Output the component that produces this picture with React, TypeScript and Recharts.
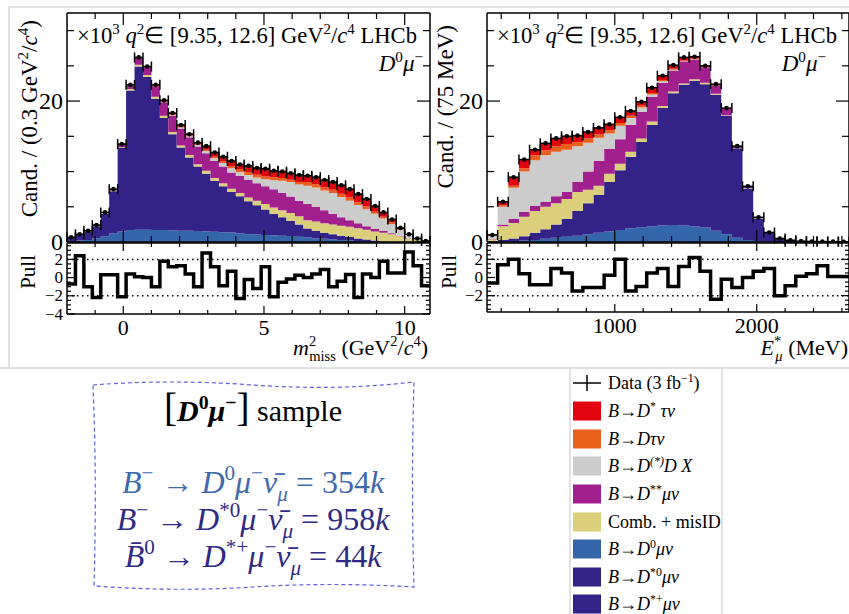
import React from "react";
import { ComposedChart, Area, Scatter, ErrorBar, Line, XAxis, YAxis, ReferenceLine } from "recharts";

const FONT = "'Liberation Serif', 'Times New Roman', serif";

// m²miss histogram: 43 bins of 0.3 GeV²/c⁴ starting at -2 (values ×10³)
const MM_LO = -2;
const MM_W = 0.3;
const MM_DATA = [0.66, 1.1, 1.6, 2.4, 4.2, 7.5, 13.9, 22.3, 26.2, 24.9, 22.3, 20.1, 18.3, 16.6, 15.3, 14.1, 13.6, 12.7, 12.1, 11.5, 11.0, 10.8, 10.5, 10.4, 10.1, 10.0, 9.75, 9.5, 9.4, 9.2, 8.8, 8.5, 8.05, 7.5, 6.8, 6.1, 5.1, 4.2, 3.2, 2.0, 1.1, 0.5, 0.15];
const MM_DMU = [0.1, 0.2, 0.3, 0.5, 0.8, 1.2, 1.5, 1.7, 1.75, 1.75, 1.7, 1.7, 1.65, 1.6, 1.6, 1.55, 1.5, 1.45, 1.4, 1.35, 1.25, 1.1, 1.05, 1.0, 0.95, 0.9, 0.85, 0.75, 0.65, 0.55, 0.45, 0.4, 0.3, 0.25, 0.15, 0.1, 0.05, 0.02, 0, 0, 0, 0, 0];
const MM_DSTMU = [0.5, 0.8, 1.15, 1.75, 3.2, 6.0, 11.9, 19.8, 23.15, 21.65, 18.6, 15.9, 13.65, 11.8, 10.4, 9.15, 8.2, 7.25, 6.5, 5.75, 5.25, 4.7, 4.15, 3.6, 3.05, 2.6, 2.15, 1.75, 1.25, 1.05, 0.85, 0.7, 0.6, 0.45, 0.35, 0.25, 0.15, 0.08, 0.05, 0, 0, 0, 0];
const MM_COMB = [0.05, 0.05, 0.05, 0.05, 0.1, 0.1, 0.1, 0.2, 0.25, 0.3, 0.3, 0.3, 0.3, 0.3, 0.35, 0.35, 0.4, 0.4, 0.45, 0.45, 0.45, 0.5, 0.65, 0.8, 0.9, 1.0, 1.1, 1.15, 1.2, 1.3, 1.35, 1.4, 1.4, 1.45, 1.45, 1.4, 1.3, 1.2, 1.05, 0.8, 0.5, 0.3, 0.1];
const MM_DSS = [0, 0.05, 0.05, 0.05, 0.1, 0.15, 0.3, 0.5, 0.95, 1.1, 1.5, 1.95, 2.3, 2.4, 2.5, 2.5, 2.5, 2.4, 2.35, 2.3, 2.4, 2.5, 2.5, 2.5, 2.6, 2.5, 2.35, 2.2, 2.3, 2.1, 1.85, 1.5, 1.2, 0.95, 0.7, 0.5, 0.35, 0.25, 0.15, 0.1, 0.05, 0, 0];
const MM_DDX = [0, 0, 0, 0, 0, 0, 0, 0, 0, 0, 0, 0.05, 0.1, 0.15, 0.15, 0.2, 0.3, 0.4, 0.5, 0.6, 0.55, 0.7, 0.8, 1.0, 1.3, 1.7, 2.05, 2.3, 2.6, 2.75, 2.8, 2.95, 2.9, 2.75, 2.6, 2.4, 2.15, 1.8, 1.3, 0.8, 0.45, 0.2, 0.05];
const MM_DTAU = [0, 0, 0, 0, 0, 0, 0.05, 0, 0.05, 0, 0.05, 0.05, 0.1, 0.1, 0.1, 0.1, 0.2, 0.2, 0.25, 0.3, 0.4, 0.45, 0.4, 0.4, 0.4, 0.4, 0.35, 0.35, 0.5, 0.45, 0.45, 0.45, 0.45, 0.45, 0.4, 0.4, 0.3, 0.25, 0.2, 0.1, 0.05, 0, 0];
const MM_DSTAU = [0, 0, 0, 0, 0, 0, 0.05, 0.05, 0.1, 0.1, 0.15, 0.15, 0.2, 0.25, 0.25, 0.3, 0.5, 0.6, 0.65, 0.75, 0.75, 0.85, 0.95, 1.05, 0.95, 0.9, 0.9, 1.0, 0.9, 1.0, 1.05, 1.1, 1.2, 1.2, 1.15, 1.05, 0.8, 0.6, 0.45, 0.2, 0.05, 0, 0];
const MM_PULL = [-0.7, 2.4, -1.0, -2.2, 0.3, 0.3, -2.1, 0.4, 0.1, 0, -1.0, 1.8, 1.2, 1.3, 0.4, -1.0, 2.7, 1.2, -0.9, 0.7, -2.3, -0.2, -1.2, 1.2, -2.1, -0.5, -0.15, 0.25, 0, 0.4, 0.9, -1.0, -0.4, 0.35, -2.2, 0.4, 0, 1.8, 0.5, 0.5, 2.8, 1.3, -0.9];
const MM_TICKS = [-1, 0, 1, 2, 3, 4, 5, 6, 7, 8, 9, 10];
const MM_MAJOR = [0, 5, 10];

// E*μ histogram: 34 bins of 75 MeV starting at 100 MeV (values ×10³)
const EM_LO = 100;
const EM_W = 75;
const EM_DATA = [1.0, 5.7, 9.2, 11.7, 13.1, 14.0, 14.7, 15.0, 15.1, 15.6, 16.2, 16.7, 17.7, 18.6, 19.9, 21.9, 23.6, 25.1, 26.2, 26.3, 25.0, 22.4, 19.0, 13.6, 7.9, 3.5, 1.35, 0.5, 0.25, 0.12, 0.08, 0.06, 0.05, 0.04];
const EM_DMU = [0.05, 0.1, 0.15, 0.2, 0.3, 0.45, 0.6, 0.75, 0.9, 1.1, 1.3, 1.5, 1.7, 1.9, 2.1, 2.25, 2.35, 2.4, 2.35, 2.25, 2.05, 1.6, 1.1, 0.6, 0.3, 0.1, 0.05, 0, 0, 0, 0, 0, 0, 0];
const EM_DSTMU = [0.05, 0.2, 0.35, 0.6, 1.0, 1.35, 1.9, 2.55, 3.5, 4.4, 5.4, 7.0, 8.5, 10.2, 12.1, 14.35, 16.65, 18.7, 19.95, 20.65, 20.35, 19.3, 16.8, 12.7, 7.3, 3.25, 1.25, 0.45, 0.2, 0.08, 0.05, 0.03, 0.03, 0.02];
const EM_COMB = [0.3, 1.95, 2.2, 2.8, 3.1, 3.2, 3.0, 2.8, 2.7, 1.9, 1.3, 1.2, 0.9, 0.7, 0.5, 0.5, 0.3, 0.25, 0.2, 0.2, 0.2, 0.15, 0.1, 0.05, 0.05, 0.05, 0.03, 0.05, 0.05, 0.04, 0.03, 0.03, 0.02, 0.02];
const EM_DSS = [0.05, 0.25, 0.55, 0.7, 0.7, 0.7, 1.0, 1.0, 1.4, 2.6, 3.5, 3.5, 3.5, 3.8, 3.8, 3.5, 3.3, 3.0, 3.1, 2.8, 2.2, 1.2, 0.9, 0.25, 0.25, 0.1, 0.02, 0, 0, 0, 0, 0, 0, 0];
const EM_DDX = [0.45, 2.5, 4.45, 5.7, 6.5, 6.6, 6.3, 6.0, 5.1, 4.1, 3.3, 2.2, 1.9, 1.0, 0.6, 0.35, 0.2, 0.1, 0.05, 0.05, 0, 0, 0, 0, 0, 0, 0, 0, 0, 0, 0, 0, 0, 0];
const EM_DTAU = [0.05, 0.2, 0.3, 0.45, 0.7, 0.7, 0.8, 0.8, 0.6, 0.6, 0.5, 0.45, 0.4, 0.3, 0.25, 0.2, 0.2, 0.15, 0.1, 0.1, 0.05, 0.05, 0, 0, 0, 0, 0, 0, 0, 0, 0, 0, 0, 0];
const EM_DSTAU = [0.1, 0.5, 1.2, 1.25, 0.8, 1.0, 1.1, 1.1, 0.9, 0.9, 0.9, 0.85, 0.8, 0.7, 0.55, 0.75, 0.6, 0.5, 0.45, 0.25, 0.15, 0.1, 0.1, 0, 0, 0, 0, 0, 0, 0, 0, 0, 0, 0];
const EM_PULL = [-0.6, 1.4, 2.0, 0.4, -0.8, -0.8, 1.0, 0.5, -1.5, -1.1, -1.1, 0.25, 2.0, -1.5, -1.0, 0.5, 1.0, -1.0, 1.2, 2.2, 0.7, -2.4, -0.2, -1.1, 0, 0.7, 1.0, -2.0, -0.9, 0.15, 0.4, 1.3, 0.1, 0.1];
const EM_TICKS = [200, 400, 600, 800, 1000, 1200, 1400, 1600, 1800, 2000, 2200, 2400, 2600];
const EM_MAJOR = [1000, 2000];

const CAND_TICKS = [0, 5, 10, 15, 20, 25, 30];
const CAND_LABELS = [0, 20];
const PULL_TICKS_L = [-4, -3.5, -3, -2.5, -2, -1.5, -1, -0.5, 0, 0.5, 1, 1.5, 2, 2.5, 3, 3.5];
const PULL_TICKS_R = [-3.5, -3, -2.5, -2, -1.5, -1, -0.5, 0, 0.5, 1, 1.5, 2, 2.5, 3, 3.5];
const PULL_MAJOR = [-4, -2, 0, 2];

// bottom → top of the stack
const STACK = [
  { key: "dmu", color: "#3466ab" },
  { key: "dstmu", color: "#332288" },
  { key: "comb", color: "#dccf7b" },
  { key: "dss", color: "#a1208e" },
  { key: "ddx", color: "#cccccc" },
  { key: "dtau", color: "#e8601c" },
  { key: "dstau", color: "#e2040e" },
];

const MM_COMPS: Record<string, number[]> = { dmu: MM_DMU, dstmu: MM_DSTMU, comb: MM_COMB, dss: MM_DSS, ddx: MM_DDX, dtau: MM_DTAU, dstau: MM_DSTAU };
const EM_COMPS: Record<string, number[]> = { dmu: EM_DMU, dstmu: EM_DSTMU, comb: EM_COMB, dss: EM_DSS, ddx: EM_DDX, dtau: EM_DTAU, dstau: EM_DSTAU };

// step rows: one per bin low edge + closing edge
function histRows(lo: number, w: number, comps: Record<string, number[]>) {
  const keys = Object.keys(comps);
  const n = comps[keys[0]].length;
  const rows: any[] = [];
  for (let i = 0; i <= n; i++) {
    const row: any = { x: lo + i * w };
    keys.forEach((k) => (row[k] = comps[k][Math.min(i, n - 1)]));
    rows.push(row);
  }
  return rows;
}
const pointRows = (lo: number, w: number, vals: number[]) =>
  vals.map((v, i) => ({ x: lo + (i + 0.5) * w, y: v, xe: w / 2 }));

const AX = { stroke: "#000", strokeWidth: 1.5 };

type TickCfg = { ticks: number[]; majors: number[]; labels: number[]; fs: number; long: number; short: number };

function tickFn(side: string, c: TickCfg) {
  return (p: any) => {
    const v = p.payload.value;
    const x = p.x;
    const y = p.y;
    const len = c.majors.includes(v) ? c.long : c.short;
    const txt = c.labels.includes(v) ? (v < 0 ? "\u2212" + Math.abs(v) : String(v)) : null;
    let line;
    let label = null;
    if (side === "left") {
      line = <line x1={x} y1={y} x2={x + len} y2={y} />;
      if (txt) label = <text x={x - 4} y={y} textAnchor="end" dominantBaseline="central" fontSize={c.fs} fontFamily={FONT} fill="#000">{txt}</text>;
    } else if (side === "right") {
      line = <line x1={x} y1={y} x2={x - len} y2={y} />;
    } else if (side === "top") {
      line = <line x1={x} y1={y} x2={x} y2={y + len} />;
    } else {
      line = <line x1={x} y1={y} x2={x} y2={y - len} />;
      if (txt) label = <text x={x} y={y + 21} textAnchor="middle" fontSize={c.fs} fontFamily={FONT} fill="#000">{txt}</text>;
    }
    return (
      <g>
        <g stroke="#000" strokeWidth={1.2}>{line}</g>
        {label}
      </g>
    );
  };
}

function Panel(props: any) {
  const { left, top, width, height, margin, yW, bH, xDom, yDom, xT, yT, rows, children } = props;
  return (
    <div style={{ position: "absolute", left, top }}>
      <ComposedChart width={width} height={height} data={rows} margin={margin}>
        <XAxis xAxisId="b" dataKey="x" type="number" domain={xDom} allowDataOverflow ticks={xT.ticks} interval={0}
          orientation="bottom" height={bH} tickSize={0} tickMargin={0} tickLine={false} axisLine={AX} tick={tickFn("bottom", xT)} />
        <XAxis xAxisId="t" dataKey="x" type="number" domain={xDom} allowDataOverflow ticks={xT.ticks} interval={0}
          orientation="top" height={1} tickSize={0} tickMargin={0} tickLine={false} axisLine={AX} tick={tickFn("top", { ...xT, labels: [] })} />
        <YAxis yAxisId="l" type="number" domain={yDom} allowDataOverflow ticks={yT.ticks} interval={0}
          orientation="left" width={yW} tickSize={0} tickMargin={0} tickLine={false} axisLine={AX} tick={tickFn("left", yT)} />
        <YAxis yAxisId="r" type="number" domain={yDom} allowDataOverflow ticks={yT.ticks} interval={0}
          orientation="right" width={1} tickSize={0} tickMargin={0} tickLine={false} axisLine={AX} tick={tickFn("right", { ...yT, labels: [] })} />
        {children}
      </ComposedChart>
    </div>
  );
}

function stackSeries() {
  return STACK.map((s) => (
    <Area key={s.key} xAxisId="b" yAxisId="l" dataKey={s.key} stackId="s" type="stepAfter"
      fill={s.color} fillOpacity={1} stroke="none" dot={false} activeDot={false} isAnimationActive={false} />
  ));
}

function dataSeries(pts: any[]) {
  return (
    <Scatter xAxisId="b" yAxisId="l" data={pts} dataKey="y" isAnimationActive={false}
      shape={(p: any) => <circle cx={p.cx} cy={p.cy} r={2.3} fill="#000" />}>
      <ErrorBar dataKey="xe" direction="x" width={5} stroke="#000" strokeWidth={1.5} />
    </Scatter>
  );
}

function pullSeries() {
  return [
    <ReferenceLine key="u" xAxisId="b" yAxisId="l" y={2} stroke="#000" strokeWidth={1.5} strokeDasharray="1.5 3.5" />,
    <ReferenceLine key="d" xAxisId="b" yAxisId="l" y={-2} stroke="#000" strokeWidth={1.5} strokeDasharray="1.5 3.5" />,
    <Line key="p" xAxisId="b" yAxisId="l" dataKey="p" type="stepAfter" stroke="#000" strokeWidth={3.5}
      strokeLinejoin="miter" dot={false} activeDot={false} isAnimationActive={false} />,
  ];
}

type Part = [string, string?, number?];
function Rich({ parts, fs, x = 0, y = 0, anchor = "start", fill = "#000", transform }: any) {
  let shift = 0;
  return (
    <text x={x} y={y} fontSize={fs} fontFamily={FONT} textAnchor={anchor} fill={fill} transform={transform}>
      {parts.map(([t, f = "", dx]: Part, i: number) => {
        const target = f.includes("^") ? -0.4 * fs : f.includes("_") ? 0.25 * fs : 0;
        const dy = target - shift;
        shift = target;
        const size = f.includes("L") ? fs * 1.3 : target !== 0 ? fs * 0.66 : fs;
        return (
          <tspan key={i} dy={dy} dx={dx} fontSize={size} fontStyle={f.includes("i") ? "italic" : "normal"}
            fontWeight={f.includes("b") ? "bold" : "normal"}>{t}</tspan>
        );
      })}
    </text>
  );
}

const HEADER: Part[] = [["\u00d710"], ["3", "^"], [" "], ["q", "i"], ["2", "^"], ["\u2208 [9.35, 12.6] GeV"], ["2", "^"], ["/"], ["c", "i"], ["4", "^"], [" LHCb"]];
const SAMPLE: Part[] = [["D", "i"], ["0", "^"], ["\u03bc", "i"], ["\u2212", "^"]];
const NUBAR = "\u03bd\u0304";

const LEGEND: { color: string | null; parts: Part[] }[] = [
  { color: null, parts: [["Data (3 fb"], ["\u22121", "^"], [")"]] },
  { color: "#e2040e", parts: [["B", "i"], ["\u2192"], ["D", "i"], ["*", "^"], [" \u03c4\u03bd", "i"]] },
  { color: "#e8601c", parts: [["B", "i"], ["\u2192"], ["D\u03c4\u03bd", "i"]] },
  { color: "#cccccc", parts: [["B", "i"], ["\u2192"], ["D", "i"], ["(*)", "^i"], ["D X", "i"]] },
  { color: "#a1208e", parts: [["B", "i"], ["\u2192"], ["D", "i"], ["**", "^"], ["\u03bc\u03bd", "i"]] },
  { color: "#dccf7b", parts: [["Comb. + misID"]] },
  { color: "#3466ab", parts: [["B", "i"], ["\u2192"], ["D", "i"], ["0", "^"], ["\u03bc\u03bd", "i"]] },
  { color: "#332288", parts: [["B", "i"], ["\u2192"], ["D", "i"], ["*0", "^"], ["\u03bc\u03bd", "i"]] },
  { color: "#332288", parts: [["B", "i"], ["\u2192"], ["D", "i"], ["*+", "^"], ["\u03bc\u03bd", "i"]] },
];
const LEGEND_Y = [383, 411, 439, 466, 494, 522, 549, 577, 604];

function Overlay() {
  return (
    <svg width={849} height={614} style={{ position: "absolute", left: 0, top: 0, pointerEvents: "none", fontFamily: FONT }}>
      {/* light screenshot frames */}
      <g stroke="#d9d9d9" strokeWidth={1.5} fill="none">
        <path d="M9 368 V7 H849" />
        <path d="M0 368 H849" />
        <path d="M570 368 V614 M722 368 V614" />
      </g>

      {/* panel headers */}
      <Rich parts={HEADER} fs={22.6} x={77} y={43} />
      <Rich parts={HEADER} fs={22.6} x={497} y={43} />
      <Rich parts={SAMPLE} fs={23} x={423} y={71} anchor="end" />
      <Rich parts={SAMPLE} fs={23} x={826} y={71} anchor="end" />

      {/* axis titles */}
      <Rich parts={[["Cand. / (0.3 GeV"], ["2", "^"], ["/"], ["c", "i"], ["4", "^"], [")"]]} fs={23} anchor="end" transform="translate(37,20) rotate(-90)" />
      <Rich parts={[["Cand. / (75 MeV)"]]} fs={23} anchor="end" transform="translate(453,25) rotate(-90)" />
      <Rich parts={[["Pull"]]} fs={21} anchor="end" transform="translate(35,255) rotate(-90)" />
      <Rich parts={[["Pull"]]} fs={21} anchor="end" transform="translate(456,255) rotate(-90)" />
      <Rich parts={[["m", "i"], ["2", "^"], ["miss", "_", -7], [" (GeV"], ["2", "^"], ["/"], ["c", "i"], ["4", "^"], [")"]]} fs={22} x={428} y={355} anchor="end" />
      <Rich parts={[["E", "i"], ["*", "^"], ["\u03bc", "_i", -6], [" (MeV)"]]} fs={22} x={848} y={355} anchor="end" />

      {/* yield box */}
      <path d="M93 385 Q 170 379 253 385 T 414 382 Q 411 480 414 587 Q 330 582 253 587 T 94 586 Q 97 480 93 385 Z"
        fill="none" stroke="#5a62de" strokeWidth={1.2} strokeDasharray="4 3" />
      <Rich parts={[["[", "L"], ["D", "ib"], ["0", "^b"], ["\u03bc", "ib"], ["\u2212", "^b"], ["]", "L"], [" sample"]]} fs={30} x={253} y={421} anchor="middle" />
      <Rich parts={[["B", "i"], ["\u2212", "^"], [" \u2192 "], ["D", "i"], ["0", "^"], ["\u03bc", "i"], ["\u2212", "^"], [NUBAR, "i"], ["\u03bc", "_i"], [" =  354"], ["k", "i"]]}
        fs={32} x={253} y={493} anchor="middle" fill="#3e6aac" />
      <Rich parts={[["B", "i"], ["\u2212", "^"], [" \u2192 "], ["D", "i"], ["*0", "^"], ["\u03bc", "i"], ["\u2212", "^"], [NUBAR, "i"], ["\u03bc", "_i"], [" = 958"], ["k", "i"]]}
        fs={32} x={253} y={530} anchor="middle" fill="#2e2a86" />
      <Rich parts={[["B\u0304", "i"], ["0", "^"], [" \u2192 "], ["D", "i"], ["*+", "^"], ["\u03bc", "i"], ["\u2212", "^"], [NUBAR, "i"], ["\u03bc", "_i"], [" = 44"], ["k", "i"]]}
        fs={32} x={253} y={567} anchor="middle" fill="#2e2a86" />

      {/* legend */}
      {LEGEND.map((e, i) => {
        const y = LEGEND_Y[i];
        return (
          <g key={i}>
            {e.color ? (
              <rect x={573} y={y - 9.5} width={28} height={19} fill={e.color} />
            ) : (
              <g stroke="#000" strokeWidth={1.5}>
                <line x1={573} y1={y} x2={601} y2={y} />
                <line x1={587} y1={y - 8} x2={587} y2={y + 8} />
              </g>
            )}
            <Rich parts={e.parts} fs={18} x={608} y={y + 6} />
          </g>
        );
      })}
    </svg>
  );
}

export default function App() {
  const mmRows = histRows(MM_LO, MM_W, MM_COMPS);
  const emRows = histRows(EM_LO, EM_W, EM_COMPS);
  const mmPts = pointRows(MM_LO, MM_W, MM_DATA);
  const emPts = pointRows(EM_LO, EM_W, EM_DATA);
  const mmPull = histRows(MM_LO, MM_W, { p: MM_PULL });
  const emPull = histRows(EM_LO, EM_W, { p: EM_PULL });

  const mmX = { ticks: MM_TICKS, majors: MM_MAJOR, labels: [], fs: 22, long: 12, short: 6 };
  const mmXL = { ...mmX, labels: MM_MAJOR, long: 8, short: 4 };
  const emX = { ticks: EM_TICKS, majors: EM_MAJOR, labels: [], fs: 22, long: 12, short: 6 };
  const emXL = { ...emX, labels: EM_MAJOR, long: 8, short: 4 };
  const candY = { ticks: CAND_TICKS, majors: CAND_LABELS, labels: CAND_LABELS, fs: 24, long: 13, short: 7 };
  const pullYL = { ticks: PULL_TICKS_L, majors: PULL_MAJOR, labels: PULL_MAJOR, fs: 17, long: 8, short: 4 };
  const pullYR = { ticks: PULL_TICKS_R, majors: PULL_MAJOR, labels: PULL_MAJOR, fs: 17, long: 8, short: 4 };

  return (
    <div style={{ position: "fixed", left: 0, top: 0, width: 849, height: 614, background: "#fff", fontFamily: FONT, overflow: "hidden" }}>
      <Panel left={0} top={0} width={440} height={262} margin={{ top: 12, right: 9, bottom: 19, left: 0 }}
        yW={67} bH={1} xDom={[-2, 10.9]} yDom={[0, 32.5]} xT={mmX} yT={candY} rows={mmRows}>
        {stackSeries()}
        {dataSeries(mmPts)}
      </Panel>
      <Panel left={0} top={230} width={440} height={130} margin={{ top: 12, right: 9, bottom: 0, left: 0 }}
        yW={67} bH={46} xDom={[-2, 10.9]} yDom={[-4, 3.8]} xT={mmXL} yT={pullYL} rows={mmPull}>
        {pullSeries()}
      </Panel>
      <Panel left={440} top={0} width={410} height={262} margin={{ top: 12, right: 0, bottom: 19, left: 0 }}
        yW={47} bH={1} xDom={[100, 2650]} yDom={[0, 32.5]} xT={emX} yT={candY} rows={emRows}>
        {stackSeries()}
        {dataSeries(emPts)}
      </Panel>
      <Panel left={440} top={230} width={410} height={130} margin={{ top: 12, right: 0, bottom: 0, left: 0 }}
        yW={47} bH={48} xDom={[100, 2650]} yDom={[-3.8, 3.8]} xT={emXL} yT={pullYR} rows={emPull}>
        {pullSeries()}
      </Panel>
      <Overlay />
    </div>
  );
}
